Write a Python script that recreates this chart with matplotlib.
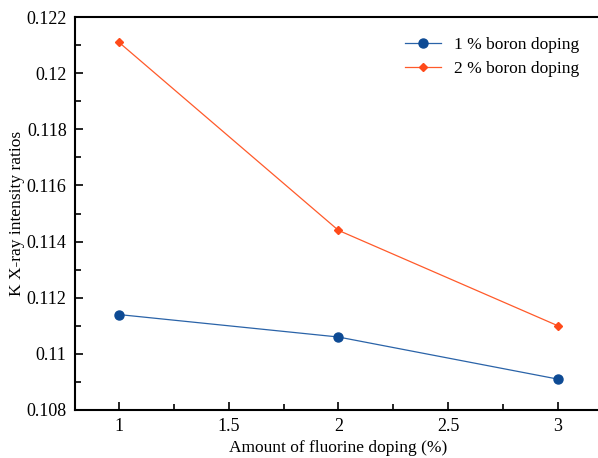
import matplotlib
matplotlib.use("Agg")
import matplotlib.pyplot as plt

fluorine = [1, 2, 3]
boron1 = [0.1114, 0.1106, 0.1091]
boron2 = [0.1211, 0.1144, 0.1110]
labels = ["1 % boron doping", "2 % boron doping"]

plt.rcParams['font.family'] = ['Liberation Serif', 'DejaVu Serif']

fig = plt.figure(figsize=(5.98, 4.58), dpi=100)
ax = fig.add_axes([75/598, 48/458, 1.0064 - 75/598, (410-17)/458])

ax.plot(fluorine, boron1, color='#2a63a8', lw=0.9, marker='o', ms=6.5,
        mfc='#0d4a94', mec='#0d4a94', label=labels[0])
ax.plot(fluorine, boron2, color='#ff5a2a', lw=0.9, marker='D', ms=4.5,
        mfc='#ff4a1a', mec='#ff4a1a', label=labels[1])

ax.set_xlim(0.8, 3.2)
ax.set_ylim(0.108, 0.122)
ax.set_xticks([1, 1.5, 2, 2.5, 3])
ax.set_xticklabels(['1', '1.5', '2', '2.5', '3'])
ax.set_xticks([1.25, 1.75, 2.25, 2.75], minor=True)
yt = [0.108, 0.11, 0.112, 0.114, 0.116, 0.118, 0.12, 0.122]
ax.set_yticks(yt)
ax.set_yticklabels(['0.108', '0.11', '0.112', '0.114', '0.116', '0.118', '0.12', '0.122'])
ax.set_yticks([0.109, 0.111, 0.113, 0.115, 0.117, 0.119, 0.121], minor=True)

ax.tick_params(which='major', direction='in', length=6, width=1.2, labelsize=13, pad=6)
ax.tick_params(which='minor', direction='in', length=4.5, width=1.2)
ax.tick_params(axis='x', which='both', top=False)
ax.tick_params(axis='y', which='both', right=False)

for s in ['left', 'bottom', 'top']:
    ax.spines[s].set_linewidth(1.5)
ax.spines['right'].set_visible(False)

ax.set_xlabel('Amount of fluorine doping (%)', fontsize=12.5, labelpad=3.5)
ax.set_ylabel('K X-ray intensity ratios', fontsize=12.5, labelpad=1)

ax.legend(loc='upper right', bbox_to_anchor=(0.987, 0.99), frameon=False,
          fontsize=12.5, handlelength=2.1, handletextpad=0.75, labelspacing=0.45)

fig.savefig('out.png', dpi=100)
